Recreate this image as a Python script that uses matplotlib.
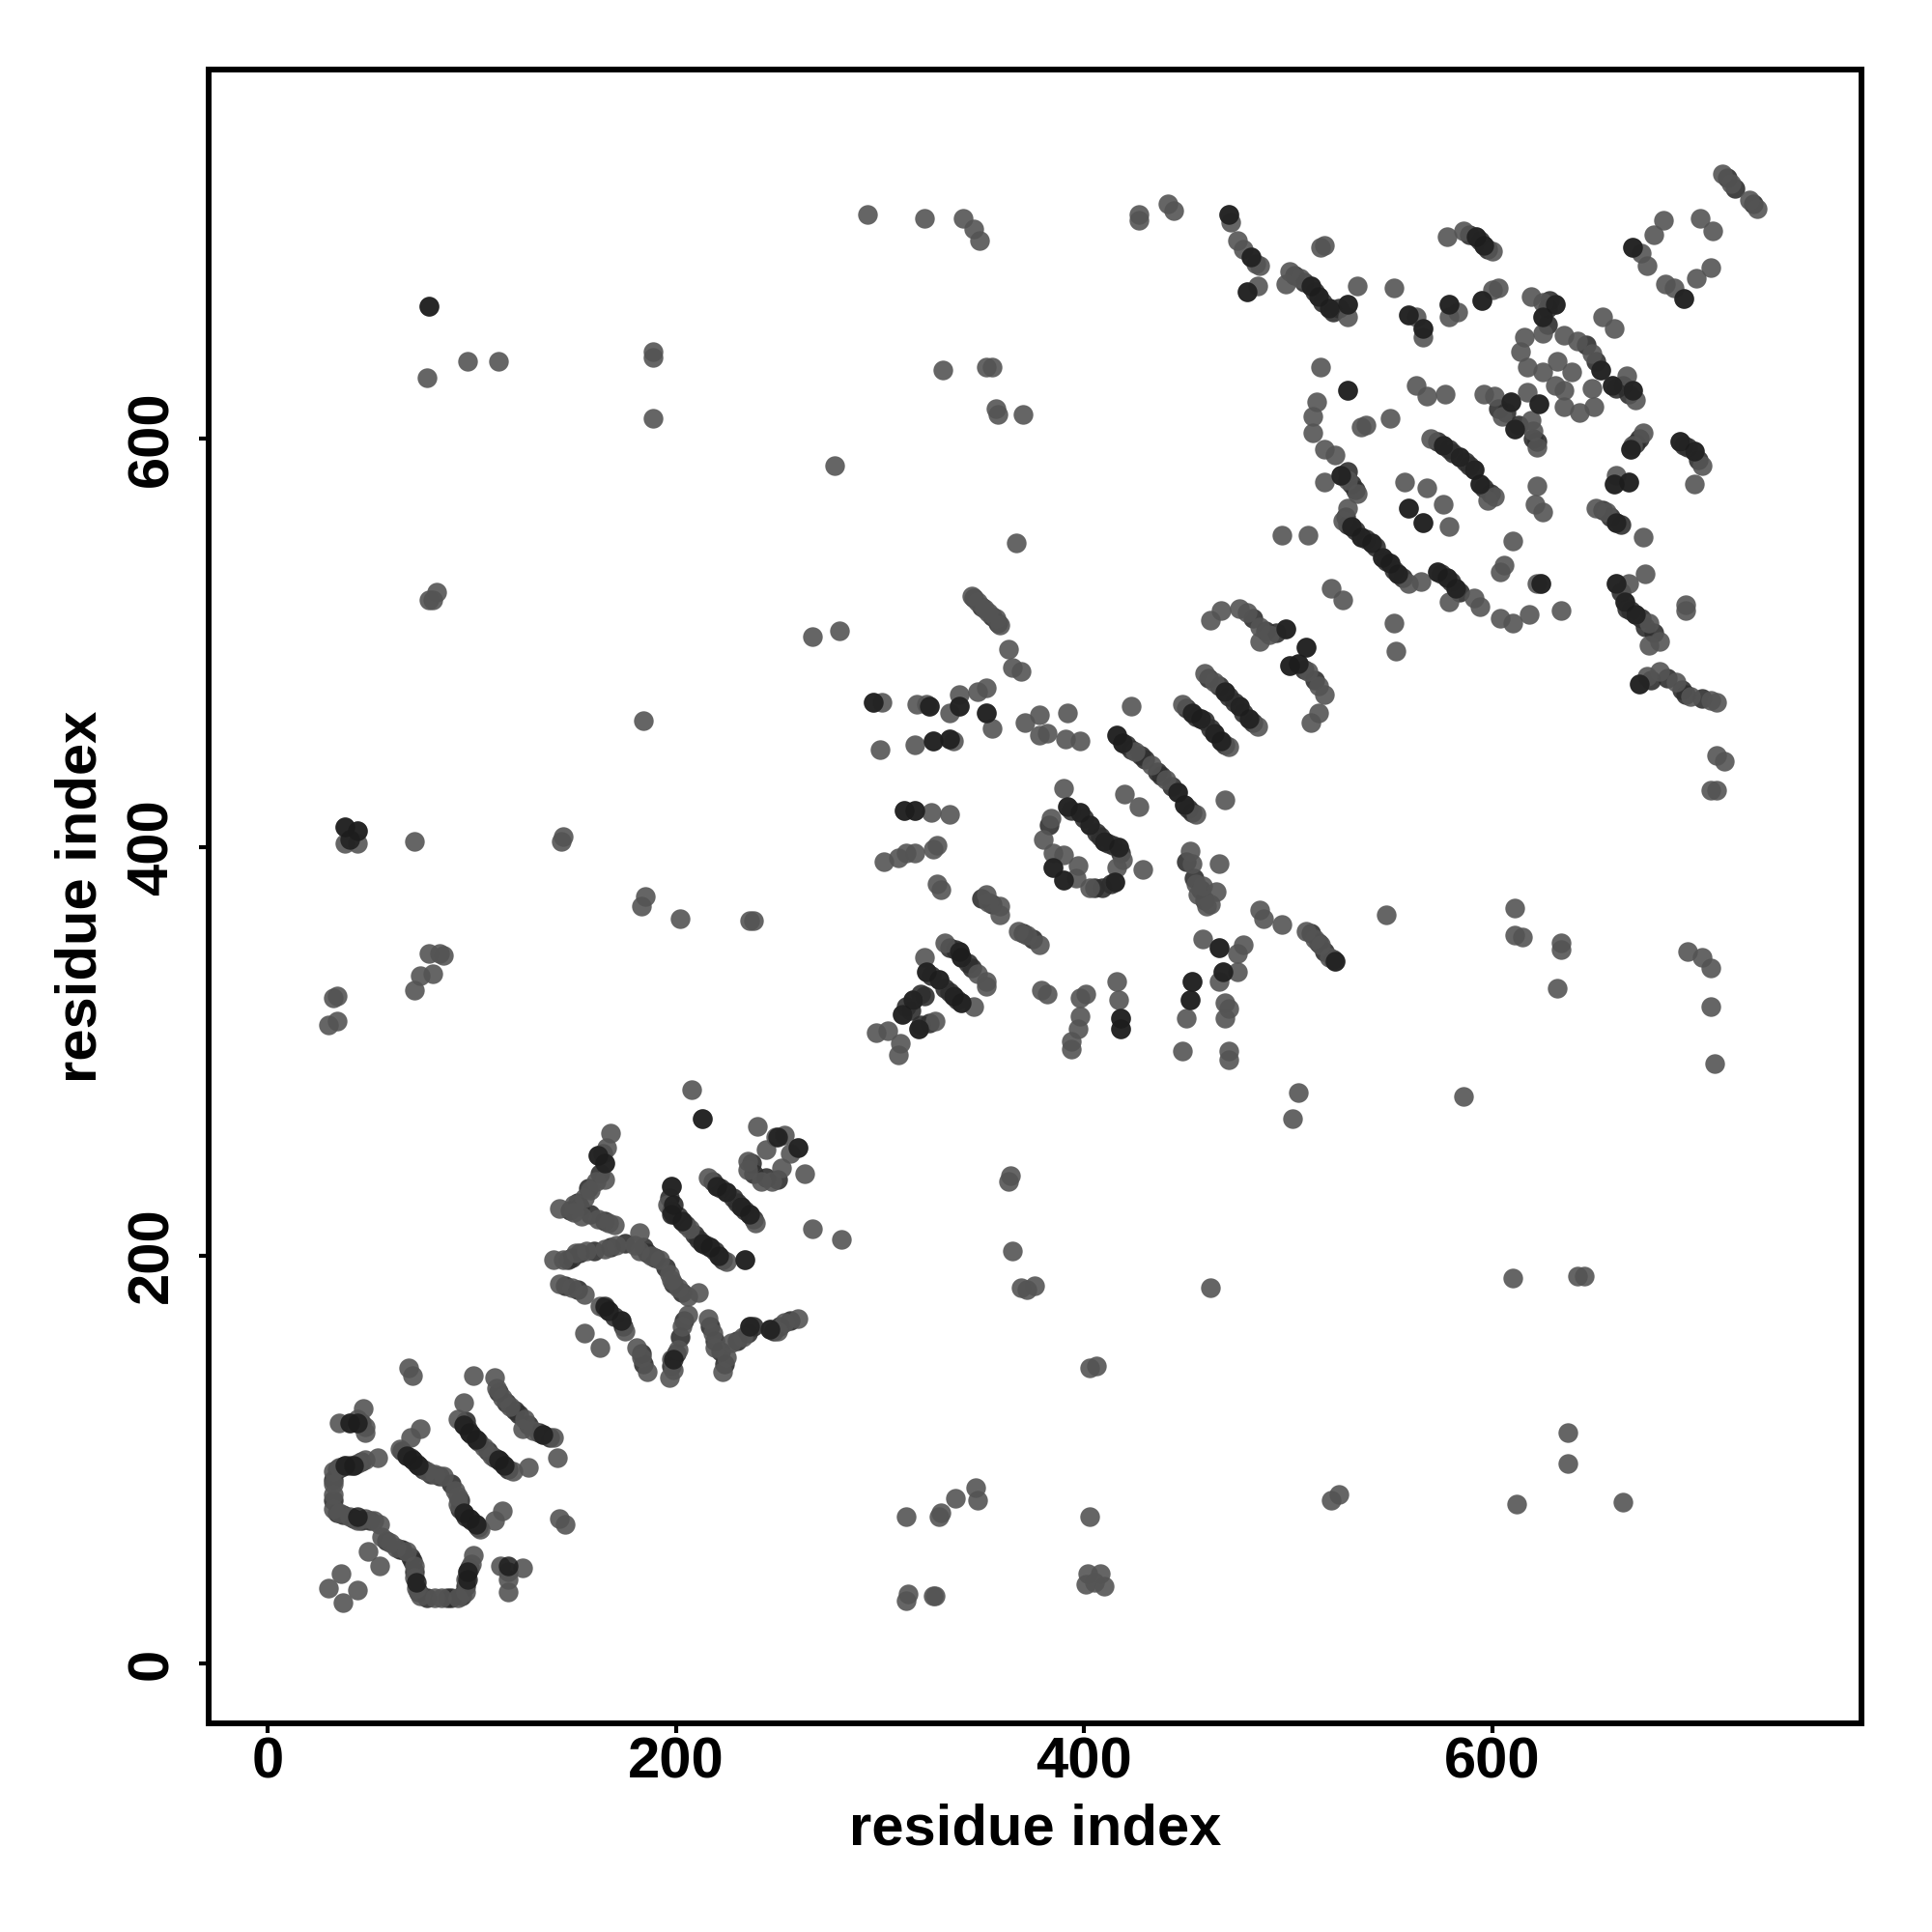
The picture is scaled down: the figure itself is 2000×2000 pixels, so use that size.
import numpy as np
import matplotlib
matplotlib.use("Agg")
import matplotlib.pyplot as plt

# contacts, (residue i, residue j)
domain1 = [(36, 44), (30, 37), (44, 36), (37, 30), (49, 55), (55, 48),
           (35, 118), (40, 118), (44, 120), (47, 125), (48, 116), (48, 113),
           (32, 94), (35, 96), (38, 97), (42, 97), (44, 98), (48, 100), (54, 101),
           (32, 88), (32, 83), (32, 76), (35, 74), (40, 72), (44, 70), (48, 71),
           (52, 70), (55, 68), (56, 62), (60, 59), (63, 57), (68, 55), (72, 48),
           (72, 42), (73, 37), (75, 33), (82, 32), (85, 32), (93, 32), (97, 35),
           (97, 41), (98, 45), (101, 53), (100, 49),
           (114, 48), (118, 45), (125, 47), (118, 41), (118, 35),
           (75, 115), (70, 111), (65, 105), (68, 102), (71, 100), (74, 97),
           (78, 94), (82, 93), (86, 92), (92, 85), (93, 82), (93, 78), (96, 74),
           (99, 71), (102, 68), (104, 66), (111, 70), (115, 75),
           (96, 128), (93, 120), (96, 117), (99, 113), (102, 110), (106, 106),
           (110, 102), (113, 100), (116, 97), (120, 94), (128, 96),
           (101, 141), (111, 140), (112, 135), (115, 130), (119, 126), (126, 120),
           (125, 115), (130, 114), (135, 112), (140, 111), (142, 101),
           (69, 145), (71, 141), (143, 71), (146, 68)]

domain1_fill = [(66, 104), (70, 101), (73, 98), (76, 95), (80, 93), (84, 92), (94, 76),
                (97, 72), (100, 70), (103, 67), (94, 80), (90, 88), (34, 95), (36, 96),
                (40, 97), (46, 99), (34, 74), (37, 73), (42, 71), (46, 70), (58, 60),
                (65, 56), (70, 52), (72, 45), (74, 35), (78, 32), (88, 32), (90, 32),
                (95, 33), (97, 38), (99, 47), (97, 119), (98, 115), (100, 112),
                (103, 109), (108, 104), (111, 101), (114, 99), (118, 95), (113, 133),
                (117, 128), (121, 124), (123, 122), (128, 117), (133, 113), (138, 111),
                (44, 118), (46, 118), (32, 90), (32, 80), (50, 70), (66, 56), (71, 50)]

domain2 = [(208, 281), (213, 267), (168, 260), (166, 253), (162, 249), (165, 245),
           (165, 237), (161, 236), (158, 232), (155, 228), (150, 225), (143, 223),
           (150, 221), (154, 219), (162, 218), (167, 216), (170, 215),
           (140, 198), (145, 198), (151, 201), (156, 202), (165, 203), (171, 205),
           (182, 211), (180, 205), (182, 202), (188, 200), (192, 198), (197, 191),
           (198, 188), (201, 184), (206, 180), (211, 182),
           (143, 186), (149, 184), (155, 181), (163, 175), (167, 173), (173, 168),
           (175, 163), (155, 162), (163, 155), (181, 155), (183, 150), (186, 143),
           (206, 171), (203, 165), (201, 154), (198, 149), (199, 144), (197, 140),
           (216, 169), (218, 162), (219, 155), (225, 150), (223, 143), (227, 157),
           (233, 160), (236, 165), (246, 164), (250, 163), (253, 167), (260, 169),
           (198, 234), (196, 225), (199, 220), (203, 217), (207, 213), (213, 206),
           (217, 204), (221, 200), (225, 197), (234, 198),
           (216, 238), (220, 234), (225, 231), (232, 224), (236, 220), (239, 216),
           (267, 213), (281, 208), (240, 263), (253, 259), (249, 258), (260, 253),
           (263, 240), (235, 246), (244, 252), (252, 243), (247, 236), (242, 236),
           (256, 250), (235, 242)]

domain2_fill = [(164, 250), (163, 240), (152, 226), (148, 222), (158, 220), (165, 217),
                (147, 198), (149, 199), (153, 201), (160, 202), (168, 204), (175, 206),
                (184, 204), (186, 201), (190, 199), (195, 194), (199, 186), (203, 182),
                (146, 185), (152, 183), (165, 174), (170, 170), (174, 165), (183, 152),
                (184, 147), (204, 168), (202, 160), (200, 152), (198, 146), (217, 165),
                (219, 158), (222, 153), (224, 147), (230, 158), (235, 162), (238, 165),
                (248, 163), (251, 165), (256, 168), (197, 228), (198, 222), (201, 219),
                (205, 215), (209, 210), (211, 208), (215, 205), (219, 202), (223, 198),
                (218, 236), (222, 233), (228, 228), (230, 226), (234, 222), (238, 218),
                (237, 245), (238, 240), (244, 238), (250, 237), (157, 233), (153, 224)]

domain3 = [(345, 523), (348, 520), (351, 517), (353, 515), (357, 512), (359, 509),
           (363, 497), (365, 488), (369, 486), (297, 471), (301, 471),
           (318, 470), (323, 470), (324, 469), (334, 466), (339, 475), (339, 469),
           (348, 476), (352, 478), (352, 466), (355, 458),
           (300, 448), (317, 450), (326, 452), (334, 453), (336, 452),
           (371, 461), (378, 465), (392, 466), (378, 455), (382, 456), (391, 453),
           (398, 452), (416, 455), (419, 451), (425, 447), (433, 440), (440, 433),
           (446, 427), (449, 421), (455, 416), (420, 426), (427, 420), (469, 423),
           (448, 470), (453, 466), (457, 463), (464, 456), (467, 452), (471, 449),
           (423, 469), (459, 485), (464, 481), (469, 476), (476, 469), (481, 463),
           (485, 459), (462, 511), (467, 516), (476, 517), (480, 515), (486, 508),
           (486, 501), (491, 504), (499, 507), (509, 498), (501, 489), (505, 490),
           (510, 486), (515, 479), (518, 475), (515, 466), (511, 461),
           (390, 429), (384, 414), (392, 420), (398, 417), (403, 411), (410, 403),
           (417, 400), (419, 394), (429, 389), (416, 390), (415, 383), (403, 380),
           (380, 404), (385, 397), (390, 396), (397, 391), (396, 385), (385, 390),
           (390, 384), (312, 418), (317, 418), (325, 417), (334, 416),
           (302, 393), (309, 395), (313, 397), (317, 397), (328, 401), (326, 399),
           (328, 382), (330, 379), (352, 377), (353, 373), (359, 371), (359, 367),
           (368, 359), (372, 357), (378, 352), (452, 398), (453, 392), (466, 392),
           (455, 382), (458, 381), (465, 378), (460, 371), (456, 377), (462, 372),
           (486, 369), (488, 365), (497, 362), (509, 359), (513, 355), (516, 352),
           (520, 346), (523, 344), (548, 367), (458, 355), (466, 351), (478, 352),
           (475, 348), (475, 339), (468, 339), (466, 334), (453, 334), (452, 325),
           (450, 316), (448, 300), (471, 300), (471, 296), (469, 324), (471, 321),
           (469, 316), (416, 334), (417, 325), (418, 316), (418, 311),
           (401, 328), (398, 326), (398, 317), (397, 311), (394, 305), (394, 301),
           (379, 330), (382, 328), (332, 353), (339, 349), (340, 346), (348, 338),
           (352, 334), (352, 332), (322, 346), (323, 339), (329, 335), (336, 327),
           (340, 324), (346, 322), (316, 325), (311, 318), (327, 315), (319, 311),
           (298, 309), (304, 310), (310, 304), (309, 298), (505, 280), (502, 267)]

domain3_fill = [(346, 522), (350, 518), (355, 513), (358, 510), (421, 450), (423, 448),
                (428, 445), (430, 443), (436, 437), (438, 435), (443, 430), (451, 419),
                (453, 417), (450, 468), (455, 464), (459, 462), (462, 458), (469, 450),
                (461, 483), (466, 479), (471, 474), (474, 471), (478, 466), (483, 461),
                (489, 506), (494, 505), (483, 512), (508, 487), (513, 482), (400, 414),
                (406, 407), (408, 405), (412, 402), (414, 401), (418, 397), (394, 418),
                (383, 411), (405, 380), (409, 380), (413, 382), (350, 375), (355, 372),
                (370, 358), (375, 355), (343, 343), (345, 341), (334, 351), (337, 350),
                (325, 337), (332, 331), (334, 329), (338, 325), (313, 322), (315, 320),
                (320, 328), (322, 327), (324, 314), (320, 313), (511, 358), (515, 353),
                (518, 349), (522, 345), (450, 393), (454, 385), (457, 379), (459, 374)]

domain4 = [(713, 730), (717, 725), (726, 717), (730, 713), (684, 707), (679, 700),
           (669, 694), (673, 691), (676, 685), (702, 708), (708, 702), (707, 684),
           (700, 679), (685, 676), (689, 674), (694, 669), (654, 660), (660, 654),
           (518, 695), (516, 694), (499, 676), (501, 682), (506, 679), (511, 675),
           (515, 670), (520, 664), (529, 666), (529, 660), (534, 675), (552, 674),
           (578, 699), (586, 702), (592, 699), (596, 695), (600, 692),
           (559, 661), (563, 660), (566, 654), (566, 650), (579, 666), (583, 662),
           (579, 660), (595, 668), (600, 673), (603, 674),
           (619, 670), (625, 667), (631, 666), (625, 660), (625, 652), (616, 650),
           (614, 643), (617, 635), (625, 633), (632, 638), (639, 633), (631, 626),
           (635, 624), (635, 616), (643, 613), (650, 616), (649, 625), (653, 634),
           (649, 642), (642, 648), (635, 651), (659, 626), (666, 631), (669, 624),
           (670, 619), (516, 635), (529, 624), (514, 618), (512, 611), (512, 603),
           (518, 595), (523, 592), (536, 606), (538, 607), (550, 610),
           (563, 626), (568, 621), (577, 622), (596, 622), (601, 621), (609, 618),
           (617, 623), (623, 617), (605, 611), (611, 605), (619, 609), (620, 604),
           (622, 596), (570, 600), (576, 597), (584, 591), (591, 585), (594, 578),
           (601, 572), (598, 570), (557, 579), (568, 576), (576, 568), (559, 566),
           (566, 559), (579, 557), (622, 577), (621, 568), (625, 564),
           (651, 566), (656, 564), (661, 559), (661, 582), (667, 579), (660, 578),
           (674, 603), (669, 597), (668, 595), (692, 599), (699, 594), (703, 587),
           (699, 578), (674, 552), (675, 534), (661, 529), (667, 529), (665, 520),
           (670, 514), (677, 510), (682, 501), (677, 499), (695, 519), (695, 516),
           (634, 516), (624, 529), (622, 529), (610, 550), (606, 538), (604, 535),
           (618, 514), (610, 510), (604, 512), (594, 518), (591, 522), (582, 527),
           (578, 532), (573, 535), (579, 520), (565, 530), (559, 529), (554, 534),
           (550, 539), (546, 542), (541, 549), (536, 552), (531, 557), (527, 560),
           (529, 566), (534, 573), (529, 580), (526, 582), (518, 579),
           (497, 553), (510, 553), (521, 527), (527, 521), (552, 510), (553, 496),
           (672, 480), (676, 484), (682, 486), (690, 481), (697, 474), (707, 472),
           (710, 471), (710, 445), (714, 442), (707, 428), (710, 428)]

domain4_fill = [(715, 728), (719, 723), (728, 715), (503, 680), (508, 677), (513, 672),
                (517, 667), (522, 662), (525, 664), (589, 700), (594, 697), (598, 693),
                (573, 599), (579, 595), (581, 593), (587, 589), (589, 587), (596, 576),
                (599, 573), (529, 584), (531, 578), (533, 575), (528, 562), (529, 558),
                (533, 555), (538, 551), (543, 547), (548, 540), (552, 536), (556, 532),
                (575, 534), (580, 530), (584, 525), (663, 525), (666, 517), (668, 516),
                (673, 512), (675, 508), (679, 505), (678, 482), (686, 483), (693, 477),
                (695, 475), (703, 473), (694, 597), (696, 596), (701, 590), (627, 664),
                (627, 656), (628, 668), (646, 646), (651, 638), (661, 625), (664, 626),
                (667, 622), (603, 615), (607, 613), (613, 607), (620, 600), (622, 599),
                (654, 565), (658, 562), (663, 558), (672, 600), (670, 598)]

sparse = [(294, 710), (322, 708), (341, 708), (346, 703), (349, 697), (427, 710),
          (427, 707), (441, 715), (444, 712), (471, 710), (472, 706), (475, 697),
          (478, 693), (482, 689), (484, 686), (486, 685), (480, 672), (485, 675),
          (79, 665), (78, 630), (98, 638), (113, 638), (189, 643), (189, 640),
          (189, 610), (331, 634), (352, 635), (355, 635), (357, 615), (358, 612),
          (370, 612), (278, 587), (367, 549), (79, 521), (83, 525), (81, 521),
          (184, 462), (267, 503), (280, 506), (38, 410), (44, 408), (38, 402),
          (44, 402), (72, 403), (145, 405), (144, 403), (185, 376), (183, 371),
          (202, 365), (238, 364), (236, 364), (79, 348), (86, 347), (84, 348),
          (81, 338), (75, 337), (72, 330), (34, 327), (32, 326), (34, 315), (30, 313),
          (586, 278), (611, 370), (611, 357), (615, 356), (634, 353), (634, 350),
          (632, 331), (696, 349), (703, 346), (707, 341), (707, 322), (709, 294),
          (364, 239), (363, 236), (365, 202), (369, 184), (372, 183), (376, 185),
          (462, 184), (610, 189), (642, 190), (645, 190), (403, 145), (406, 146),
          (637, 113), (637, 98), (612, 78), (664, 79), (521, 80), (525, 83),
          (403, 72), (313, 72), (329, 72), (337, 81), (347, 86), (348, 80), (330, 74),
          (314, 34), (313, 31), (326, 33), (327, 33), (401, 39), (408, 44), (410, 38),
          (402, 44), (405, 40)]

# the darker contacts, drawn over the others
dark = [(79, 665), (38, 410), (44, 408), (40, 404), (40, 118), (44, 118), (38, 97),
        (42, 97), (44, 72), (99, 71), (96, 74), (102, 68), (99, 113), (102, 110),
        (96, 117), (68, 102), (71, 100), (74, 97), (113, 100), (116, 97), (98, 41),
        (98, 45), (73, 40), (118, 48), (135, 112),
        (198, 220), (203, 217), (199, 225), (213, 206), (217, 204), (221, 200),
        (220, 234), (225, 231), (232, 224), (236, 220), (198, 234), (165, 175),
        (167, 173), (173, 168), (199, 149), (234, 198), (213, 267), (236, 165),
        (246, 164), (165, 245), (162, 249), (250, 258), (260, 253),
        (339, 349), (340, 346), (323, 339), (329, 335), (336, 327), (340, 324),
        (311, 318), (316, 325), (319, 311), (297, 471), (324, 469), (339, 469),
        (352, 466), (317, 418), (312, 418), (326, 452), (334, 453),
        (392, 420), (398, 417), (403, 411), (410, 403), (417, 400), (415, 383),
        (385, 390), (390, 384), (416, 455), (419, 451), (449, 421), (446, 427),
        (453, 466), (457, 463), (464, 456), (467, 452), (469, 476), (476, 469),
        (481, 463), (499, 507), (505, 490), (509, 498), (501, 489), (466, 351),
        (468, 339), (453, 334), (452, 325), (418, 316), (418, 311), (523, 344),
        (529, 666), (515, 670), (511, 675), (520, 664), (596, 695), (592, 699),
        (566, 654), (559, 661), (579, 666), (595, 668), (625, 660), (631, 666),
        (653, 634), (659, 626), (669, 624), (609, 618), (611, 605), (623, 617),
        (584, 591), (591, 585), (576, 597), (594, 578), (529, 624), (526, 582),
        (531, 557), (536, 552), (541, 549), (546, 542), (550, 539), (554, 534),
        (573, 535), (578, 532), (582, 527), (624, 529), (661, 529), (665, 520),
        (670, 514), (672, 480), (699, 594), (692, 599), (667, 579), (660, 578),
        (661, 559), (694, 669), (669, 694), (480, 672), (482, 689), (471, 710),
        (566, 559), (559, 566), (668, 595)]

ticks = [0, 200, 400, 600]
fill_pts = np.array(domain1_fill + domain2_fill + domain3_fill + domain4_fill)
base_pts = np.array(domain1 + domain2 + domain3 + domain4 + sparse)
dark_pts = np.array(dark)

plt.rcParams['font.family'] = ['Liberation Sans', 'DejaVu Sans']

fig = plt.figure(figsize=(20, 20), dpi=100)
ax = fig.add_axes([216 / 2000, 1 - 1784 / 2000, (1927 - 216) / 2000, (1784 - 72) / 2000])

ax.scatter(fill_pts[:, 0], fill_pts[:, 1], s=215, color='#2e2e2e', alpha=0.9, linewidths=0)
ax.scatter(base_pts[:, 0], base_pts[:, 1], s=215, color='#545454', alpha=0.9, linewidths=0)
ax.scatter(dark_pts[:, 0], dark_pts[:, 1], s=215, color='#1c1c1c', alpha=0.85, linewidths=0)

ax.set_xlim(-28.9, 781)
ax.set_ylim(-29.3, 781)
ax.set_xticks(ticks)
ax.set_yticks(ticks)
ax.tick_params(axis='x', length=7, width=3, pad=3, labelsize=43)
ax.tick_params(axis='y', length=7, width=3, pad=15, labelsize=43)
for lab in ax.get_xticklabels() + ax.get_yticklabels():
    lab.set_fontweight('bold')
for lab in ax.get_yticklabels():
    lab.set_rotation(90)
    lab.set_va('center')
for sp in ax.spines.values():
    sp.set_linewidth(4.3)

ax.set_xlabel('residue index', fontsize=43, fontweight='bold', labelpad=9.5)
ax.set_ylabel('residue index', fontsize=43, fontweight='bold', labelpad=14)

fig.savefig('out.png', dpi=100)
